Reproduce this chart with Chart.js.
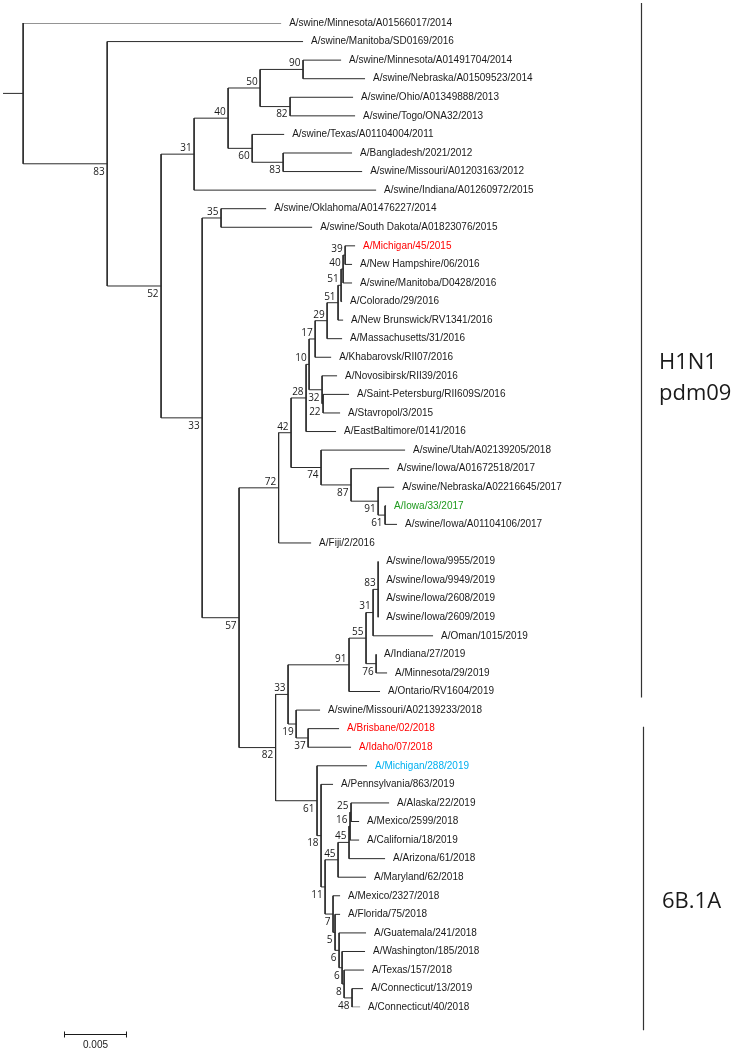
<!DOCTYPE html>
<html>
<head>
<meta charset="utf-8">
<title>H1N1 pdm09 HA tree</title>
<script src="https://cdn.jsdelivr.net/npm/chart.js@4.4.1/dist/chart.umd.min.js"></script>
<style>
  html, body { margin: 0; padding: 0; background: #fff; }
  #wrap { position: relative; width: 736px; height: 1050px; }
</style>
</head>
<body>
<div id="wrap"><canvas id="tree"></canvas></div>
<script>
// Tips, top to bottom (row index = position on the y axis)
const leafNames = [
  'A/swine/Minnesota/A01566017/2014', 'A/swine/Manitoba/SD0169/2016', 'A/swine/Minnesota/A01491704/2014',
  'A/swine/Nebraska/A01509523/2014', 'A/swine/Ohio/A01349888/2013', 'A/swine/Togo/ONA32/2013',
  'A/swine/Texas/A01104004/2011', 'A/Bangladesh/2021/2012', 'A/swine/Missouri/A01203163/2012',
  'A/swine/Indiana/A01260972/2015', 'A/swine/Oklahoma/A01476227/2014', 'A/swine/South Dakota/A01823076/2015',
  'A/Michigan/45/2015', 'A/New Hampshire/06/2016', 'A/swine/Manitoba/D0428/2016',
  'A/Colorado/29/2016', 'A/New Brunswick/RV1341/2016', 'A/Massachusetts/31/2016',
  'A/Khabarovsk/RII07/2016', 'A/Novosibirsk/RII39/2016', 'A/Saint-Petersburg/RII609S/2016',
  'A/Stavropol/3/2015', 'A/EastBaltimore/0141/2016', 'A/swine/Utah/A02139205/2018',
  'A/swine/Iowa/A01672518/2017', 'A/swine/Nebraska/A02216645/2017', 'A/Iowa/33/2017',
  'A/swine/Iowa/A01104106/2017', 'A/Fiji/2/2016', 'A/swine/Iowa/9955/2019',
  'A/swine/Iowa/9949/2019', 'A/swine/Iowa/2608/2019', 'A/swine/Iowa/2609/2019',
  'A/Oman/1015/2019', 'A/Indiana/27/2019', 'A/Minnesota/29/2019',
  'A/Ontario/RV1604/2019', 'A/swine/Missouri/A02139233/2018', 'A/Brisbane/02/2018',
  'A/Idaho/07/2018', 'A/Michigan/288/2019', 'A/Pennsylvania/863/2019',
  'A/Alaska/22/2019', 'A/Mexico/2599/2018', 'A/California/18/2019',
  'A/Arizona/61/2018', 'A/Maryland/62/2018', 'A/Mexico/2327/2018',
  'A/Florida/75/2018', 'A/Guatemala/241/2018', 'A/Washington/185/2018',
  'A/Texas/157/2018', 'A/Connecticut/13/2019', 'A/Connecticut/40/2018',
];

// Distance from root to each tip (substitutions/site)
const leafDepth = [
  0.02048, 0.02222, 0.02524, 0.02714, 0.02619, 0.02635, 0.02072, 0.02611, 0.02691, 0.02802,
  0.01929, 0.02294, 0.02635, 0.02611, 0.02611, 0.02532, 0.02540, 0.02532, 0.02445, 0.02492,
  0.02587, 0.02516, 0.02484, 0.03032, 0.02905, 0.02945, 0.02881, 0.02968, 0.02286, 0.02818,
  0.02818, 0.02818, 0.02818, 0.03254, 0.02802, 0.02889, 0.02833, 0.02357, 0.02508, 0.02603,
  0.02730, 0.02460, 0.02905, 0.02667, 0.02667, 0.02873, 0.02722, 0.02516, 0.02516, 0.02722,
  0.02714, 0.02706, 0.02698, 0.02675,
];

// Highlighted strains
const leafColors = { 12: '#ff0000', 26: '#1f9a1f', 38: '#ff0000', 39: '#ff0000', 40: '#00b0f0' };

// Internal nodes: children (tip index or node name), depth, bootstrap
const nodeNames = [
  'root', 'n83a', 'n52', 'n31', 'n40', 'n50', 'n90', 'n82a', 'n60', 'n83b',
  'n33a', 'n35', 'n57', 'n72', 'n42', 'n28', 'n10', 'n17', 'n29', 'n51b',
  'n51a', 'n40b', 'n39', 'n32', 'n22', 'n74', 'n87', 'n91a', 'n61a', 'n82b',
  'n33c', 'n91b', 'n55', 'n31b', 'n83c', 'n76', 'n19', 'n37', 'n61b', 'n18',
  'n11', 'n45a', 'n45b', 'n16', 'n25', 'n7', 'n5', 'n6a', 'n6b', 'n8', 'n48',
];
const nodeKids = [
  [0, 'n83a'], [1, 'n52'], ['n31', 'n33a'], ['n40', 9], ['n50', 'n60'],
  ['n90', 'n82a'], [2, 3], [4, 5], [6, 'n83b'], [7, 8],
  ['n35', 'n57'], [10, 11], ['n72', 'n82b'], ['n42', 28], ['n28', 'n74'],
  ['n10', 22], ['n17', 'n32'], ['n29', 18], ['n51b', 17], ['n51a', 16],
  ['n40b', 15], ['n39', 14], [12, 13], [19, 'n22'], [20, 21],
  [23, 'n87'], [24, 'n91a'], [25, 'n61a'], [26, 27], ['n33c', 'n61b'],
  ['n91b', 'n19'], ['n55', 36], ['n31b', 'n76'], ['n83c', 33], [29, 30, 31, 32],
  [34, 35], [37, 'n37'], [38, 39], [40, 'n18'], [41, 'n11'],
  ['n45a', 'n7'], ['n45b', 46], ['n16', 45], ['n25', 44], [42, 43],
  [47, 'n5'], [48, 'n6a'], [49, 'n6b'], [50, 'n8'], [51, 'n48'], [52, 53],
];
const nodeDepth = [
  0, 0.00667, 0.01095, 0.01357, 0.01627, 0.01881, 0.02222, 0.02119, 0.01818, 0.02064,
  0.01421, 0.01571, 0.01714, 0.02028, 0.02127, 0.02246, 0.02270, 0.02318, 0.02413, 0.02500,
  0.02524, 0.02540, 0.02556, 0.02373, 0.02381, 0.02365, 0.02603, 0.02818, 0.02873, 0.02004,
  0.02103, 0.02587, 0.02722, 0.02778, 0.02818, 0.02802, 0.02167, 0.02262, 0.02333, 0.02365,
  0.02397, 0.02500, 0.02587, 0.02595, 0.02603, 0.02460, 0.02476, 0.02508, 0.02532, 0.02548,
  0.02611,
];
const nodeSupport = [
  null, 83, 52, 31, 40, 50, 90, 82, 60, 83,
  33, 35, 57, 72, 42, 28, 10, 17, 29, 51,
  51, 40, 39, 32, 22, 74, 87, 91, 61, 82,
  33, 91, 55, 31, 83, 76, 19, 37, 61, 18,
  11, 45, 45, 16, 25, 7, 5, 6, 6, 8, 48,
];

// Clades marked on the right
const cladeNames = [['H1N1', 'pdm09'], ['6B.1A']];
const cladeLeaves = [[0, 36], [38, 53]];

const scaleBarLength = 0.005;

// --- layout ---
const nodeIndex = {};
nodeNames.forEach((n, i) => { nodeIndex[n] = i; });

const nodeY = [];
function yOf(ref) {
  if (typeof ref === 'number') return ref;
  const i = nodeIndex[ref];
  if (nodeY[i] === undefined) {
    const kids = nodeKids[i];
    nodeY[i] = (yOf(kids[0]) + yOf(kids[kids.length - 1])) / 2;
  }
  return nodeY[i];
}
function depthOf(ref) {
  return typeof ref === 'number' ? leafDepth[ref] : nodeDepth[nodeIndex[ref]];
}

// upper child -> label above the branch, otherwise below
const isUpper = {};
nodeKids.forEach(kids => kids.forEach((k, j) => {
  if (typeof k === 'string') isUpper[k] = j === 0;
}));

const ROOT_STUB = 0.0016;
const edges = [];
const gap = () => ({ x: 0, y: null });
edges.push({ x: -ROOT_STUB, y: yOf('root') }, { x: 0, y: yOf('root') }, gap());
nodeNames.forEach((n, i) => {
  const kids = nodeKids[i];
  const d = nodeDepth[i];
  edges.push({ x: d, y: yOf(kids[0]) }, { x: d, y: yOf(kids[kids.length - 1]) }, gap());
  kids.forEach(k => {
    edges.push({ x: d, y: yOf(k) }, { x: depthOf(k), y: yOf(k) }, gap());
  });
});

const INK = '#1a1a1a';

const treeLabels = {
  id: 'treeLabels',
  afterDatasetsDraw(chart) {
    const { ctx, scales: { x, y } } = chart;
    ctx.save();
    ctx.textBaseline = 'middle';

    // tip names
    ctx.font = '10px "Liberation Sans", Arial, sans-serif';
    ctx.textAlign = 'left';
    leafNames.forEach((name, i) => {
      ctx.fillStyle = leafColors[i] || INK;
      ctx.fillText(name, x.getPixelForValue(leafDepth[i]) + 8, y.getPixelForValue(i));
    });

    // bootstrap values
    ctx.font = '10px "Open Sans", sans-serif';
    ctx.fillStyle = INK;
    ctx.textAlign = 'right';
    nodeNames.forEach((n, i) => {
      if (nodeSupport[i] == null) return;
      const py = y.getPixelForValue(nodeY[i]) + (isUpper[n] ? -6 : 8);
      ctx.fillText(String(nodeSupport[i]), x.getPixelForValue(nodeDepth[i]) - 2.5, py);
    });

    // clade bars
    const barX = [641.5, 643.5];
    const barPad = [[20, 6], [2, 23]];
    const textPos = [[659, 369], [662, 908]];
    ctx.strokeStyle = '#333';
    ctx.lineWidth = 1.2;
    ctx.font = '22px "Open Sans", sans-serif';
    ctx.textAlign = 'left';
    ctx.textBaseline = 'alphabetic';
    cladeLeaves.forEach(([a, b], c) => {
      ctx.beginPath();
      ctx.moveTo(barX[c], y.getPixelForValue(a) - barPad[c][0]);
      ctx.lineTo(barX[c], y.getPixelForValue(b) + barPad[c][1]);
      ctx.stroke();
      cladeNames[c].forEach((line, k) => {
        ctx.fillText(line, textPos[c][0], textPos[c][1] + k * 31);
      });
    });

    // scale bar
    const sx0 = 64;
    const sx1 = sx0 + x.getPixelForValue(scaleBarLength) - x.getPixelForValue(0);
    const sy = 1034.5;
    ctx.strokeStyle = INK;
    ctx.lineWidth = 1;
    ctx.beginPath();
    ctx.moveTo(sx0, sy); ctx.lineTo(sx1, sy);
    ctx.moveTo(sx0 + 0.5, sy - 3); ctx.lineTo(sx0 + 0.5, sy + 3);
    ctx.moveTo(sx1 - 0.5, sy - 3); ctx.lineTo(sx1 - 0.5, sy + 3);
    ctx.stroke();
    ctx.font = '10px "Liberation Sans", Arial, sans-serif';
    ctx.textAlign = 'center';
    ctx.textBaseline = 'middle';
    ctx.fillText(String(scaleBarLength), (sx0 + sx1) / 2, 1045);

    ctx.restore();
  },
};

new Chart(document.getElementById('tree'), {
  type: 'scatter',
  data: {
    datasets: [{
      data: edges,
      showLine: true,
      spanGaps: false,
      borderColor: '#2b2b2b',
      borderWidth: 1,
      pointRadius: 0,
      pointHoverRadius: 0,
    }],
  },
  options: {
    responsive: true,
    maintainAspectRatio: false,
    animation: false,
    events: [],
    layout: { padding: { left: 3, right: 83, top: 23, bottom: 42.8 } },
    plugins: {
      legend: { display: false },
      tooltip: { enabled: false },
    },
    scales: {
      x: { type: 'linear', display: false, min: -ROOT_STUB, max: 0.05 },
      y: { type: 'linear', display: false, min: 0, max: 53, reverse: true },
    },
  },
  plugins: [treeLabels],
});
</script>
</body>
</html>
